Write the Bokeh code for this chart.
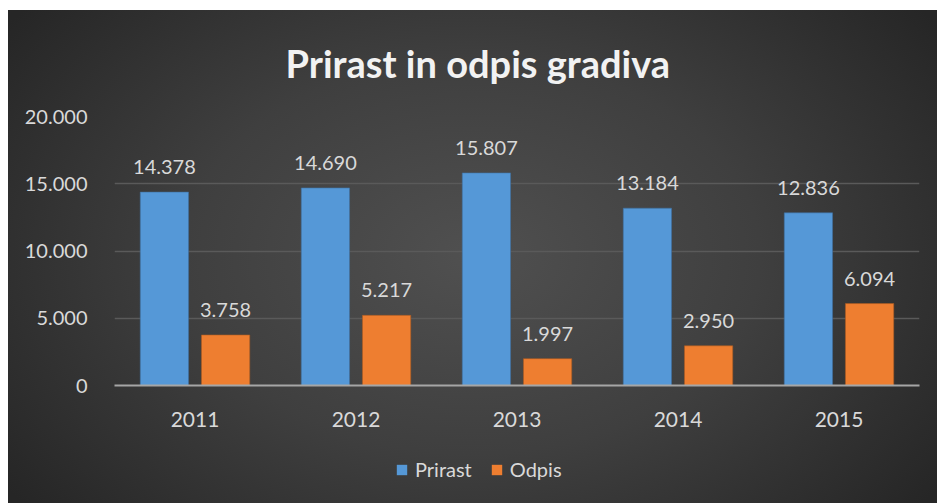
from bokeh.plotting import figure
from bokeh.layouts import column
from bokeh.models import ColumnDataSource, FactorRange, Range1d, LabelSet, Legend, LegendItem, FixedTicker
from bokeh.core.properties import value
from bokeh.transform import dodge
from bokeh.embed import file_html
from bokeh.resources import INLINE

years = ["2011", "2012", "2013", "2014", "2015"]
prirast = [14378, 14690, 15807, 13184, 12836]
odpis = [3758, 5217, 1997, 2950, 6094]
y_ticks = [0, 5000, 10000, 15000, 20000]
y_tick_labels = ["0", "5.000", "10.000", "15.000", "20.000"]
series_names = ["Prirast", "Odpis"]
series_colors = ["#5598d7", "#ee7e30"]
series_edges = ["#3f6f9f", "#a85a22"]

def fmt(v):
    return f"{v:,}".replace(",", ".")

src = ColumnDataSource(dict(
    year=years, prirast=prirast, odpis=odpis,
    prirast_lbl=[fmt(v) for v in prirast],
    odpis_lbl=[fmt(v) for v in odpis],
))

FONT = "Lato"
LBL = "#d9d9d9"

p = figure(
    width=929, height=430, frame_width=805, frame_height=269,
    output_backend="svg", toolbar_location=None,
    x_range=FactorRange(factors=years, range_padding=0),
    y_range=Range1d(0, 20000),
    min_border_left=106, min_border_right=18, min_border_top=106, min_border_bottom=55,
    title="Prirast in odpis gradiva",
)
p.background_fill_alpha = 0
p.border_fill_alpha = 0
p.outline_line_color = None

p.title.text_font = FONT
p.title.text_font_size = "38px"
p.title.text_font_style = "bold"
p.title.text_color = "#f2f2f2"
p.title.align = "left"
p.title.vertical_align = "top"
p.title.standoff = 57
p.title.offset = 171

bw = 0.30
off = 0.19
p.vbar(x=dodge("year", -off, range=p.x_range), top="prirast", width=bw, source=src,
       fill_color=series_colors[0], line_color=series_edges[0], line_alpha=0.6)
p.vbar(x=dodge("year", off, range=p.x_range), top="odpis", width=bw, source=src,
       fill_color=series_colors[1], line_color=series_edges[1], line_alpha=0.6)

for col, o in (("prirast", -off), ("odpis", off)):
    ls = LabelSet(x=dodge("year", o, range=p.x_range), y=col, text=col + "_lbl", source=src,
                  text_align="center", text_baseline="alphabetic", y_offset=18,
                  text_font=value(FONT), text_font_size=value("20px"), text_color=LBL)
    p.add_layout(ls)

p.xgrid.grid_line_color = None
p.ygrid.grid_line_color = "#5a5a5a"
p.ygrid.grid_line_width = 1.5
p.yaxis.ticker = FixedTicker(ticks=y_ticks)
p.yaxis.major_label_overrides = {t: l for t, l in zip(y_ticks, y_tick_labels)}
p.yaxis.axis_line_color = None
p.yaxis.major_tick_line_color = None
p.yaxis.minor_tick_line_color = None
p.yaxis.major_label_standoff = 21
p.yaxis.major_label_text_font = FONT
p.yaxis.major_label_text_font_size = "20px"
p.yaxis.major_label_text_color = LBL

p.xaxis.axis_line_color = "#a6a6a6"
p.xaxis.axis_line_width = 2
p.xaxis.major_tick_line_color = None
p.xaxis.minor_tick_line_color = None
p.xaxis.major_label_standoff = 20
p.xaxis.major_label_text_font = FONT
p.xaxis.major_label_text_font_size = "21px"
p.xaxis.major_label_text_color = LBL

# legend strip below the chart (same background, transparent figure)
pl = figure(width=929, height=63, output_backend="svg", toolbar_location=None,
            x_range=Range1d(0, 1), y_range=Range1d(0, 1),
            x_axis_location=None, y_axis_location=None, min_border=0)
pl.grid.visible = False
pl.background_fill_alpha = 0
pl.border_fill_alpha = 0
pl.outline_line_color = None
items = []
for name, c in zip(series_names, series_colors):
    # zero-size legend-key renderer (draws nothing itself)
    r = pl.vbar(x=[0.5], top=[0], bottom=[0], width=0, fill_color=c, line_color=None)
    items.append(LegendItem(label=name, renderers=[r]))
legend = Legend(items=items, location=(281, 22), orientation="horizontal",
                glyph_width=13, glyph_height=13, label_standoff=7, spacing=18,
                padding=0, margin=0,
                label_text_font=FONT, label_text_font_size="20px", label_text_color=LBL,
                background_fill_alpha=0, border_line_color=None)
pl.add_layout(legend, "center")

layout = column(p, pl, spacing=0)
layout.styles = {"background": "radial-gradient(ellipse 62% 80% at 50% 50%, #505050 0%, #3f3f3f 50%, #262626 100%)",
                 "margin-left": "8px", "margin-top": "10px", "width": "929px", "height": "493px"}

open("out.html", "w").write(file_html(layout, INLINE))
